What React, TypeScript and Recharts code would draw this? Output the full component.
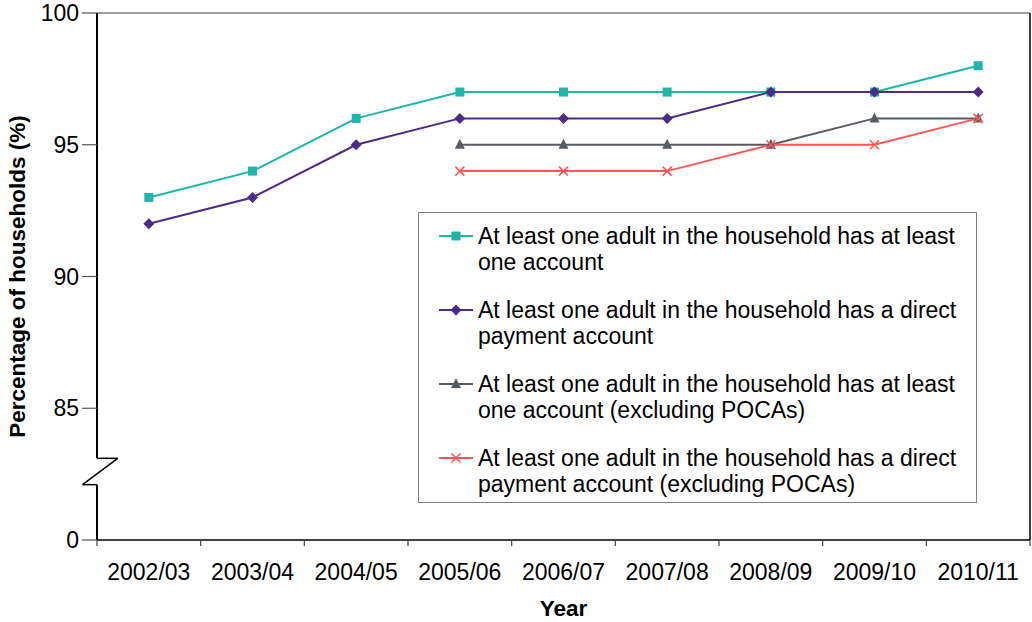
import React from 'react';
import { LineChart, Line, XAxis, YAxis, ReferenceLine, Legend } from 'recharts';

const years = ['2002/03', '2003/04', '2004/05', '2005/06', '2006/07', '2007/08', '2008/09', '2009/10', '2010/11'];
const anyAccount = [93, 94, 96, 97, 97, 97, 97, 97, 98];
const directPayment = [92, 93, 95, 96, 96, 96, 97, 97, 97];
const anyExclPoca = [null, null, null, 95, 95, 95, 95, 96, 96];
const directExclPoca = [null, null, null, 94, 94, 94, 95, 95, 96];
const yTicks = [80, 85, 90, 95, 100];
const xTicks = [0, 1, 2, 3, 4, 5, 6, 7, 8, 9];

const seriesNames = [
  ['At least one adult in the household has at least', 'one account'],
  ['At least one adult in the household has a direct', 'payment account'],
  ['At least one adult in the household has at least', 'one account (excluding POCAs)'],
  ['At least one adult in the household has a direct', 'payment account (excluding POCAs)'],
];

const data = years.map((y, i) => ({
  x: i + 0.5,
  year: y,
  a: anyAccount[i],
  b: directPayment[i],
  c: anyExclPoca[i],
  d: directExclPoca[i],
}));

const FONT = '"Liberation Sans", Arial, sans-serif';
const FS = 23;
const TEAL = '#21b4a8';
const PURPLE = '#4a2c86';
const GRAY = '#575c63';
const RED = '#ff5757';

const Square = (p: any) => {
  if (p.cx == null || p.cy == null || p.value == null) return null;
  return <rect key={p.key} x={p.cx - 4.5} y={p.cy - 4.5} width={9} height={9} fill={TEAL} />;
};
const Diamond = (p: any) => {
  if (p.cx == null || p.cy == null || p.value == null) return null;
  const s = 5.5;
  return <polygon key={p.key} points={`${p.cx},${p.cy - s} ${p.cx + s},${p.cy} ${p.cx},${p.cy + s} ${p.cx - s},${p.cy}`} fill={PURPLE} />;
};
const Triangle = (p: any) => {
  if (p.cx == null || p.cy == null || p.value == null) return null;
  return <polygon key={p.key} points={`${p.cx},${p.cy - 6} ${p.cx + 5},${p.cy + 4} ${p.cx - 5},${p.cy + 4}`} fill={GRAY} />;
};
const Cross = (p: any) => {
  if (p.cx == null || p.cy == null || p.value == null) return null;
  const s = 4.5;
  return (
    <g key={p.key} stroke={RED} strokeWidth={1.6}>
      <line x1={p.cx - s} y1={p.cy - s} x2={p.cx + s} y2={p.cy + s} />
      <line x1={p.cx - s} y1={p.cy + s} x2={p.cx + s} y2={p.cy - s} />
    </g>
  );
};

const icons = [
  (cx: number, cy: number) => <rect x={cx - 4.5} y={cy - 4.5} width={9} height={9} fill={TEAL} />,
  (cx: number, cy: number) => <polygon points={`${cx},${cy - 5.5} ${cx + 5.5},${cy} ${cx},${cy + 5.5} ${cx - 5.5},${cy}`} fill={PURPLE} />,
  (cx: number, cy: number) => <polygon points={`${cx},${cy - 6} ${cx + 5},${cy + 4} ${cx - 5},${cy + 4}`} fill={GRAY} />,
  (cx: number, cy: number) => (
    <g stroke={RED} strokeWidth={1.6}>
      <line x1={cx - 4.5} y1={cy - 4.5} x2={cx + 4.5} y2={cy + 4.5} />
      <line x1={cx - 4.5} y1={cy + 4.5} x2={cx + 4.5} y2={cy - 4.5} />
    </g>
  ),
];
const colors = [TEAL, PURPLE, GRAY, RED];

const LegendBox = () => (
  <div
    style={{
      boxSizing: 'border-box',
      width: 559,
      height: 291,
      border: '1.5px solid #808080',
      background: '#fff',
      padding: '10px 0 0 19px',
      fontFamily: FONT,
      fontSize: FS,
      lineHeight: '26px',
      color: '#000',
    }}
  >
    {seriesNames.map((lines, i) => (
      <div key={i} style={{ display: 'flex', alignItems: 'flex-start', marginBottom: 22 }}>
        <svg width={40} height={26} style={{ flex: '0 0 40px' }}>
          <line x1={1} y1={13} x2={35} y2={13} stroke={colors[i]} strokeWidth={2} />
          {icons[i](18, 13)}
        </svg>
        <div style={{ whiteSpace: 'nowrap' }}>
          {lines[0]}
          <br />
          {lines[1]}
        </div>
      </div>
    ))}
  </div>
);

export default function App() {
  return (
    <div style={{ position: 'absolute', left: 0, top: 0, width: 1032, height: 622, background: '#fff' }}>
      <LineChart
        width={1032}
        height={622}
        data={data}
        margin={{ top: 13, right: 2, left: 0, bottom: 0 }}
        style={{ fontFamily: FONT }}
      >
        <XAxis
          dataKey="x"
          type="number"
          domain={[0, 9]}
          ticks={xTicks}
          interval={0}
          height={82}
          tickSize={6}
          tickMargin={18}
          axisLine={{ stroke: '#000', strokeWidth: 1.5 }}
          tickLine={{ stroke: '#444', strokeWidth: 1.2 }}
          tick={{ fill: '#000', fontSize: FS, fontFamily: FONT, dx: 51.8 }}
          tickFormatter={(v: number) => years[v] ?? ''}
          label={{ value: 'Year', position: 'insideBottom', offset: 6, fill: '#000', fontSize: 22.5, fontWeight: 'bold', fontFamily: FONT }}
        />
        <YAxis
          type="number"
          domain={[80, 100]}
          ticks={yTicks}
          interval={0}
          width={97}
          tickSize={15}
          tickMargin={3}
          axisLine={false}
          tickLine={{ stroke: '#555', strokeWidth: 1.2 }}
          tick={{ fill: '#000', fontSize: FS, fontFamily: FONT }}
          tickFormatter={(v: number) => (v === 80 ? '0' : String(v))}
          label={{ value: 'Percentage of households (%)', angle: -90, position: 'center', dx: -31, fill: '#000', fontSize: 22.5, fontWeight: 'bold', fontFamily: FONT }}
        />
        <ReferenceLine y={100} stroke="#808080" strokeWidth={1.5} />
        <ReferenceLine x={9} stroke="#000" strokeWidth={1.5} />
        <ReferenceLine segment={[{ x: 0, y: 100 }, { x: 0, y: 83.1 }]} stroke="#000" strokeWidth={2} ifOverflow="visible" />
        <ReferenceLine segment={[{ x: 0, y: 83.1 }, { x: 0.2, y: 83.1 }]} stroke="#000" strokeWidth={1.5} ifOverflow="visible" />
        <ReferenceLine segment={[{ x: 0.2, y: 83.1 }, { x: -0.14, y: 82.1 }]} stroke="#000" strokeWidth={1.5} ifOverflow="visible" />
        <ReferenceLine segment={[{ x: -0.14, y: 82.1 }, { x: 0, y: 82.1 }]} stroke="#000" strokeWidth={1.5} ifOverflow="visible" />
        <ReferenceLine segment={[{ x: 0, y: 82.1 }, { x: 0, y: 80 }]} stroke="#000" strokeWidth={2} ifOverflow="visible" />
        <Line dataKey="a" name={seriesNames[0].join(' ')} stroke={TEAL} strokeWidth={2} dot={Square} activeDot={false} isAnimationActive={false} />
        <Line dataKey="b" name={seriesNames[1].join(' ')} stroke={PURPLE} strokeWidth={2} dot={Diamond} activeDot={false} isAnimationActive={false} />
        <Line dataKey="c" name={seriesNames[2].join(' ')} stroke={GRAY} strokeWidth={2} dot={Triangle} activeDot={false} isAnimationActive={false} />
        <Line dataKey="d" name={seriesNames[3].join(' ')} stroke={RED} strokeWidth={2} dot={Cross} activeDot={false} isAnimationActive={false} />
        <Legend
          layout="vertical"
          align="center"
          verticalAlign="middle"
          content={() => <LegendBox />}
          wrapperStyle={{ position: 'absolute', left: 418, top: 212, width: 559, height: 291, margin: 0 }}
        />
      </LineChart>
    </div>
  );
}
